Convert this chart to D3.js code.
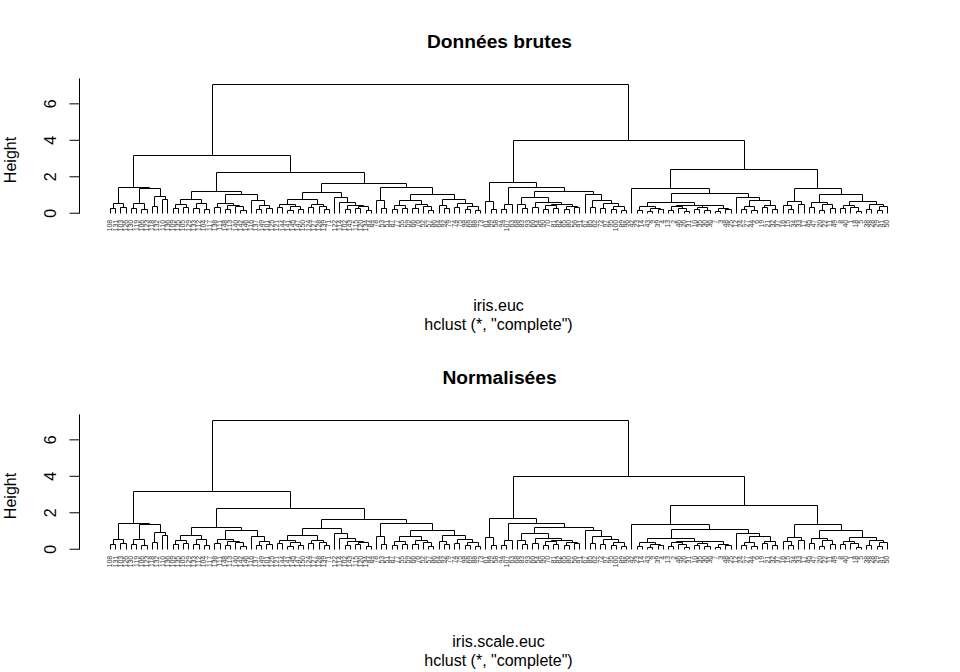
<!DOCTYPE html>
<html><head><meta charset="utf-8">
<script src="https://cdn.jsdelivr.net/npm/d3@7"></script>
<style>
body{margin:0;background:#fff}
svg{display:block}
text{font-family:"Liberation Sans",Arial,Helvetica,sans-serif;fill:#000}
</style>
</head><body>
<svg id="c" width="960" height="672"></svg>
<script>
// Leaf labels in dendrogram order (left to right)
const leafLabels = [
108,131,103,126,130,119,106,123,118,132,110,136,
109,135,105,129,133,112,104,117,138,111,148,113,140,142,146,116,137,149,101,125,
121,144,141,145,147,150,124,127,128,139,71,122,114,102,143,115,120,134,84,78,
53,51,87,77,55,59,66,76,52,57,86,64,92,79,74,75,98,69,88,73,
61,99,58,94,107,63,68,83,93,60,54,90,70,81,82,65,80,56,91,67,85,62,72,97,95,100,89,96,
42,23,14,43,9,39,4,13,2,46,26,31,10,35,30,36,7,3,48,25,12,24,27,44,6,19,21,32,37,16,
15,34,33,17,45,47,20,22,11,49,8,40,1,18,5,38,28,29,41,50
];
// Height at which each pair of neighbouring leaves is joined (cophenetic height between leaf i and i+1)
const gapHeights = [
0.24,0.51,0.29,1.43,0.28,0.55,0.22,1.34,0.37,0.91,0.75,3.18,
0.24,0.50,0.29,0.75,0.28,0.55,0.20,1.19,0.29,0.55,0.20,0.45,0.35,0.15,1.03,0.70,0.20,0.45,0.25,2.22,
0.30,0.50,0.15,0.35,0.20,0.75,0.30,0.50,0.35,0.20,1.15,0.84,0.57,0.20,0.45,0.25,0.35,0.15,1.64,
0.70,0.25,1.39,0.20,0.42,0.28,0.70,0.25,0.50,0.35,0.15,1.02,0.45,0.25,0.73,0.30,0.55,0.20,0.35,0.15,
7.085,
0.66,0.20,1.68,0.20,0.50,1.43,0.50,0.25,0.84,0.30,0.60,0.20,0.40,0.25,0.50,0.20,0.37,0.30,1.20,
1.03,0.30,0.70,0.25,0.51,0.20,0.35,0.15,
3.99,
1.34,0.15,0.37,0.10,0.28,0.20,0.60,0.15,0.35,0.25,0.10,0.45,0.20,0.30,0.15,0.40,0.10,0.28,0.22,1.06,
0.84,0.20,0.35,0.15,0.69,0.30,0.42,0.20,
2.38,
0.45,0.20,0.66,0.50,1.37,0.30,0.60,0.15,0.50,0.25,1.02,0.25,0.45,0.30,0.10,0.66,0.20,0.50,0.15,0.35
];
const yTicks = [0, 2, 4, 6];
const panelTitles = ["Données brutes", "Normalisées"];
const panelDistNames = ["iris.euc", "iris.scale.euc"];
const panelMethods = ['hclust (*, "complete")', 'hclust (*, "complete")'];
const yLabel = "Height";

const svg = d3.select("#c");
const PH = 336;
const n = leafLabels.length;
const maxH = d3.max(gapHeights);

const x = d3.scaleLinear().domain([0, n - 1]).range([110, 887]);
const y = d3.scaleLinear().domain([-0.04 * maxH, 1.04 * maxH]).range([217.9, 78.4]);
const plotLeft = x(-0.04 * (n - 1));
const plotRight = x((n - 1) * 1.04);
const cx = (plotLeft + plotRight) / 2;

function build(a, b) {
  if (a === b) return {h: 0, pos: a};
  let k = a;
  for (let i = a + 1; i < b; i++) if (gapHeights[i] > gapHeights[k]) k = i;
  const L = build(a, k), R = build(k + 1, b);
  return {h: gapHeights[k], pos: (L.pos + R.pos) / 2, left: L, right: R};
}
const root = build(0, n - 1);
const nodes = [];
(function walk(d){ if (d.left) { nodes.push(d); walk(d.left); walk(d.right); } })(root);

const px = v => Math.round(x(v)) + 0.5;
const py = v => Math.round(y(v)) + 0.5;

panelTitles.forEach((title, p) => {
  const g = svg.append("g").attr("transform", `translate(0,${p * PH})`);

  g.append("g").selectAll("path").data(nodes).join("path")
    .attr("d", d => `M${px(d.left.pos)},${py(d.left.h)}V${py(d.h)}H${px(d.right.pos)}V${py(d.right.h)}`)
    .attr("fill", "none").attr("stroke", "#000").attr("stroke-width", 1);

  g.append("g").selectAll("text").data(leafLabels).join("text")
    .attr("transform", (d, i) => `translate(${x(i)},${y(0) + 7}) rotate(-90)`)
    .attr("text-anchor", "end").attr("dy", "0.35em")
    .style("font-size", "7px").style("fill", "#333")
    .text(d => d);

  const ax = g.append("g").attr("transform", `translate(${Math.round(plotLeft) + 0.5},0)`)
    .call(d3.axisLeft(y).tickValues(yTicks).tickSize(10).tickSizeOuter(0).tickFormat(d3.format("d")));
  ax.select(".domain").remove();
  ax.append("line").attr("x1", 0).attr("x2", 0)
    .attr("y1", py(0)).attr("y2", y(1.04 * maxH)).attr("stroke", "#000");
  ax.selectAll(".tick line").attr("stroke", "#000");
  ax.selectAll(".tick text")
    .attr("transform", "rotate(-90)").attr("x", 0).attr("y", -24).attr("dy", 0)
    .attr("text-anchor", "middle").style("font-size", "16px")
    .style("font-family", '"Liberation Sans",Arial,sans-serif').attr("fill", "#000");

  g.append("text").attr("transform", "translate(16,160) rotate(-90)")
    .attr("text-anchor", "middle").style("font-size", "16px").text(yLabel);

  g.append("text").attr("x", cx + 1).attr("y", 47.5).attr("text-anchor", "middle")
    .style("font-size", "19.2px").style("font-weight", "bold").text(title);

  g.append("text").attr("x", cx).attr("y", 310.5).attr("text-anchor", "middle")
    .style("font-size", "16px").text(panelDistNames[p]);
  g.append("text").attr("x", cx).attr("y", 330).attr("text-anchor", "middle")
    .style("font-size", "16px").text(panelMethods[p]);
});
</script>
</body></html>
